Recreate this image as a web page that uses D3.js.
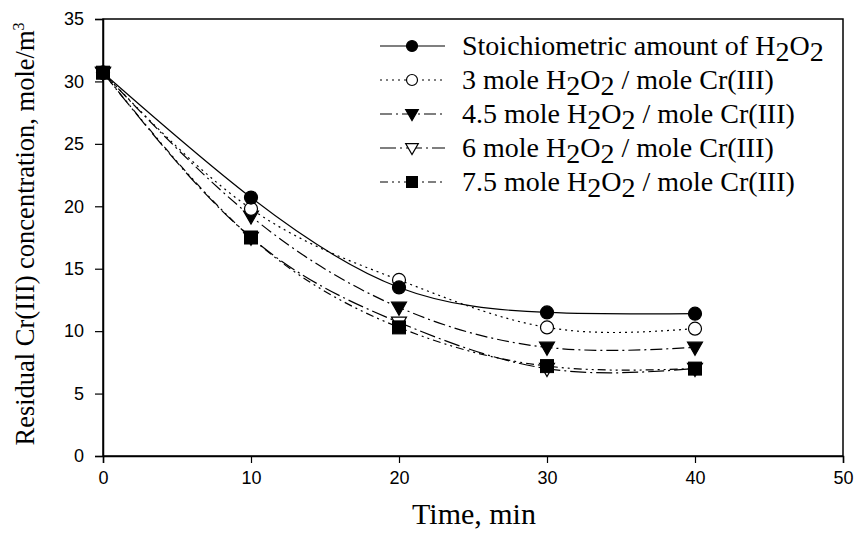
<!DOCTYPE html>
<html>
<head>
<meta charset="utf-8">
<script src="https://cdn.jsdelivr.net/npm/d3@7"></script>
<style>
  body { margin: 0; background: #fff; }
  .tick text { font-family: "Liberation Sans", Arial, sans-serif; font-size: 18px; }
  .serif { font-family: "Liberation Serif", "Times New Roman", serif; }
</style>
</head>
<body>
<div id="chart"></div>
<script>
// Chart data
var times = [0, 10, 20, 30, 40];
var stoich = [30.7, 20.7, 13.5, 11.5, 11.4];
var ratio3 = [30.7, 19.8, 14.1, 10.3, 10.2];
var ratio45 = [30.7, 19.2, 11.9, 8.7, 8.7];
var ratio6 = [30.7, 17.5, 10.7, 7.0, 7.0];
var ratio75 = [30.7, 17.5, 10.3, 7.2, 7.0];
var xTicks = [0, 10, 20, 30, 40, 50];
var yTicks = [0, 5, 10, 15, 20, 25, 30, 35];

var svgWidth = 855;
var svgHeight = 533;

var svg = d3.select("#chart")
    .append("svg")
    .attr("width", svgWidth)
    .attr("height", svgHeight);

var xScale = d3.scaleLinear().domain([0, 50]).range([103, 843]);
var yScale = d3.scaleLinear().domain([0, 35]).range([456, 19]);

// series styles (z = marker stacking order)
var series = [
    { values: stoich, dash: null, marker: "circle", fill: "#000", z: 4, label: "Stoichiometric amount of ", tail: "" },
    { values: ratio3, dash: "2,4", marker: "circle", fill: "#fff", z: 2, label: "3 mole ", tail: " / mole Cr(III)" },
    { values: ratio45, dash: "12,4,2,4", marker: "triangle", fill: "#000", z: 1, label: "4.5 mole ", tail: " / mole Cr(III)" },
    { values: ratio6, dash: "16,4,2,4", marker: "triangle", fill: "#fff", z: 0, label: "6 mole ", tail: " / mole Cr(III)" },
    { values: ratio75, dash: "8,4,2,4,2,4", marker: "square", fill: "#000", z: 3, label: "7.5 mole ", tail: " / mole Cr(III)" }
];

// frame
svg.append("rect")
    .attr("x", xScale(0))
    .attr("y", yScale(35))
    .attr("width", xScale(50) - xScale(0))
    .attr("height", yScale(0) - yScale(35))
    .attr("fill", "none")
    .attr("stroke", "#000")
    .attr("stroke-width", 1.5);

var bottomAxis = d3.axisBottom(xScale).tickValues(xTicks).tickSize(7).tickPadding(8);
var leftAxis = d3.axisLeft(yScale).tickValues(yTicks).tickSize(8).tickPadding(11);

svg.append("g")
    .attr("transform", `translate(0, ${yScale(0)})`)
    .call(bottomAxis)
    .call(g => g.select(".domain").attr("stroke-width", 1.5))
    .call(g => g.selectAll(".tick line").attr("stroke-width", 1.2));

svg.append("g")
    .attr("transform", `translate(${xScale(0)}, 0)`)
    .call(leftAxis)
    .call(g => g.select(".domain").attr("stroke-width", 1.5))
    .call(g => g.selectAll(".tick line").attr("stroke-width", 1.2));

// axis titles
svg.append("text")
    .attr("class", "serif")
    .attr("x", 474)
    .attr("y", 524)
    .attr("text-anchor", "middle")
    .attr("font-size", 30)
    .text("Time, min");

var yTitle = svg.append("text")
    .attr("class", "serif")
    .attr("transform", "translate(34, 234) rotate(-90)")
    .attr("text-anchor", "middle")
    .attr("font-size", 26.5);
yTitle.append("tspan").text("Residual Cr(III) concentration, mole/m");
yTitle.append("tspan").attr("dy", -10).attr("font-size", 16).text("3");

// marker drawing
function drawMarker(g, type, fill, x, y, size) {
    if (type === "circle") {
        g.append("circle").attr("cx", x).attr("cy", y).attr("r", size)
            .attr("fill", fill).attr("stroke", "#000").attr("stroke-width", 1.2);
    } else if (type === "triangle") {
        var s = size * 1.15;
        g.append("path")
            .attr("d", `M${x - s},${y - s * 0.7} L${x + s},${y - s * 0.7} L${x},${y + s * 1.05} Z`)
            .attr("fill", fill).attr("stroke", "#000").attr("stroke-width", 1.2);
    } else {
        g.append("rect").attr("x", x - size).attr("y", y - size)
            .attr("width", size * 2).attr("height", size * 2)
            .attr("fill", fill).attr("stroke", "#000").attr("stroke-width", 1);
    }
}

var line = d3.line()
    .x((d, i) => xScale(times[i]))
    .y(d => yScale(d))
    .curve(d3.curveNatural);

var chartGroup = svg.append("g");

series.forEach(function(s) {
    chartGroup.append("path")
        .attr("d", line(s.values))
        .attr("fill", "none")
        .attr("stroke", "#000")
        .attr("stroke-width", 1.2)
        .attr("stroke-dasharray", s.dash);
});

// markers drawn after lines, stacked by z
series.slice().sort((a, b) => a.z - b.z).forEach(function(s) {
    s.values.forEach(function(v, i) {
        drawMarker(chartGroup, s.marker, s.fill, xScale(times[i]), yScale(v), 6.5);
    });
});

// legend
var legend = svg.append("g");
series.forEach(function(s, i) {
    var y = 46 + i * 34;
    legend.append("line")
        .attr("x1", 380).attr("x2", 445)
        .attr("y1", y).attr("y2", y)
        .attr("stroke", "#000")
        .attr("stroke-width", 1.2)
        .attr("stroke-dasharray", s.dash);
    drawMarker(legend, s.marker, s.fill, 412, y, 5.5);
    var t = legend.append("text")
        .attr("class", "serif")
        .attr("x", 462)
        .attr("y", y + 9)
        .attr("font-size", 28);
    t.append("tspan").text(s.label + "H");
    t.append("tspan").attr("dy", 6).text("2");
    t.append("tspan").attr("dy", -6).text("O");
    t.append("tspan").attr("dy", 6).text("2");
    t.append("tspan").attr("dy", -6).text(s.tail);
});
</script>
</body>
</html>
